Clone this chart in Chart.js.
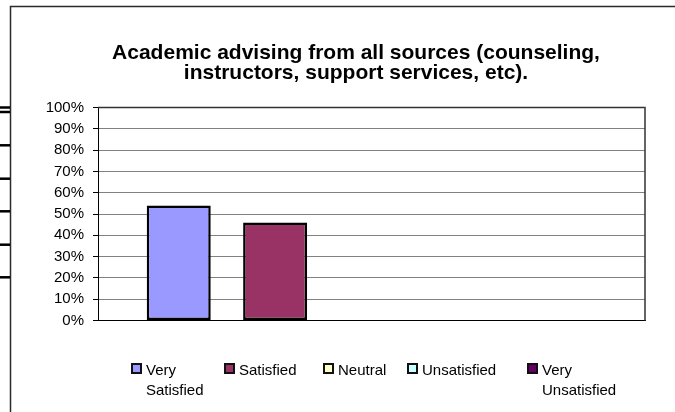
<!DOCTYPE html>
<html>
<head>
<meta charset="utf-8">
<script src="https://cdn.jsdelivr.net/npm/chart.js@4/dist/chart.umd.min.js"></script>
<style>
  body { margin: 0; background: #fff; }
  #wrap { position: relative; width: 675px; height: 412px; }
  #legend { position: absolute; left: 0; top: 0; width: 675px; height: 412px; pointer-events: none;
            font-family: Arial, "Liberation Sans", sans-serif; font-size: 15px; line-height: 20px; color: #000; }
  .item { position: absolute; top: 360px; }
  .box { position: absolute; left: 0; top: 3px; width: 7px; height: 7px; border: 2px solid #111; }
  .txt { display: block; margin-left: 15px; width: 80px; }
</style>
</head>
<body>
<div id="wrap">
  <canvas id="myChart" width="675" height="412"></canvas>
  <div id="legend"></div>
</div>
<script>
// survey answers, share of respondents (%)
var answers = ['Very Satisfied', 'Satisfied', 'Neutral', 'Unsatisfied', 'Very Unsatisfied'];
var shares = [54, 46, 0, 0, 0];
var answerColors = ['#9999FF', '#993366', '#FFFFCC', '#CCFFFF', '#660066'];
var yTicks = [0, 10, 20, 30, 40, 50, 60, 70, 80, 90, 100];
var titleLines = ['Academic advising from all sources (counseling,', 'instructors, support services, etc).'];

var legendX = [131, 224, 323, 407, 527];

var datasets = [];
for (let i = 0; i < answers.length; i++) {
    datasets.push({
        label: answers[i],
        data: [shares[i]],
        backgroundColor: answerColors[i],
        borderColor: '#000',
        borderWidth: shares[i] === 0 ? 0 : 2.5,
        borderSkipped: false,
        categoryPercentage: 0.881,
        barPercentage: 0.664
    });
}

// page frame, plot border and the title (centred on the page, not the plot)
const framePlugin = {
    id: 'frame',
    beforeDatasetsDraw(chart) {
        const ctx = chart.ctx;
        const a = chart.chartArea;
        ctx.save();
        ctx.strokeStyle = '#333';
        ctx.lineWidth = 1.5;
        ctx.beginPath();
        ctx.moveTo(a.left, a.top);
        ctx.lineTo(a.right, a.top);
        ctx.lineTo(a.right, a.bottom);
        ctx.stroke();
        ctx.restore();
    },
    afterDraw(chart) {
        const ctx = chart.ctx;
        ctx.save();
        ctx.strokeStyle = '#2a2a2a';
        ctx.lineWidth = 1.5;
        ctx.beginPath();
        ctx.moveTo(10.5, 412);
        ctx.lineTo(10.5, 6.5);
        ctx.lineTo(675, 6.5);
        ctx.stroke();
        ctx.strokeStyle = '#000';
        ctx.lineWidth = 2.5;
        [107.5, 112, 145.3, 178.7, 211.3, 244.7, 277.3].forEach(function (y) {
            ctx.beginPath();
            ctx.moveTo(0, y);
            ctx.lineTo(10, y);
            ctx.stroke();
        });
        ctx.fillStyle = '#000';
        ctx.font = 'bold 21px Arial, "Liberation Sans", sans-serif';
        ctx.textAlign = 'center';
        ctx.textBaseline = 'alphabetic';
        titleLines.forEach(function (line, i) {
            ctx.fillText(line, 356, 59 + i * 20);
        });
        ctx.restore();
    }
};

var config = {
    type: 'bar',
    data: { labels: [''], datasets: datasets },
    options: {
        responsive: false,
        animation: false,
        layout: { padding: { left: 44, right: 30, top: 107.5, bottom: 91.5 } },
        scales: {
            x: {
                grid: { display: false },
                ticks: { display: false },
                border: { display: true, color: '#000', width: 1 },
                afterFit: function (scale) { scale.height = 0; }
            },
            y: {
                min: 0,
                max: 100,
                afterBuildTicks: function (scale) { scale.ticks = yTicks.map(v => ({ value: v })); },
                ticks: {
                    callback: v => v + '%',
                    color: '#000',
                    padding: 9,
                    font: { family: 'Arial, "Liberation Sans"', size: 15 }
                },
                grid: { color: '#808080', tickColor: '#000', tickLength: 5, lineWidth: 1 },
                border: { display: true, color: '#000', width: 1 },
                afterFit: function (scale) { scale.width = 54; }
            }
        },
        plugins: {
            legend: { display: false },
            tooltip: { enabled: false },
            title: { display: false }
        }
    },
    plugins: [framePlugin]
};

var myChart = new Chart(document.getElementById('myChart'), config);

// legend below the plot, built from the same lists
var legend = document.getElementById('legend');
for (let i = 0; i < answers.length; i++) {
    let item = document.createElement('div');
    item.className = 'item';
    item.style.left = legendX[i] + 'px';
    let box = document.createElement('span');
    box.className = 'box';
    box.style.background = answerColors[i];
    let txt = document.createElement('span');
    txt.className = 'txt';
    txt.textContent = answers[i];
    item.appendChild(box);
    item.appendChild(txt);
    legend.appendChild(item);
}
</script>
</body>
</html>
